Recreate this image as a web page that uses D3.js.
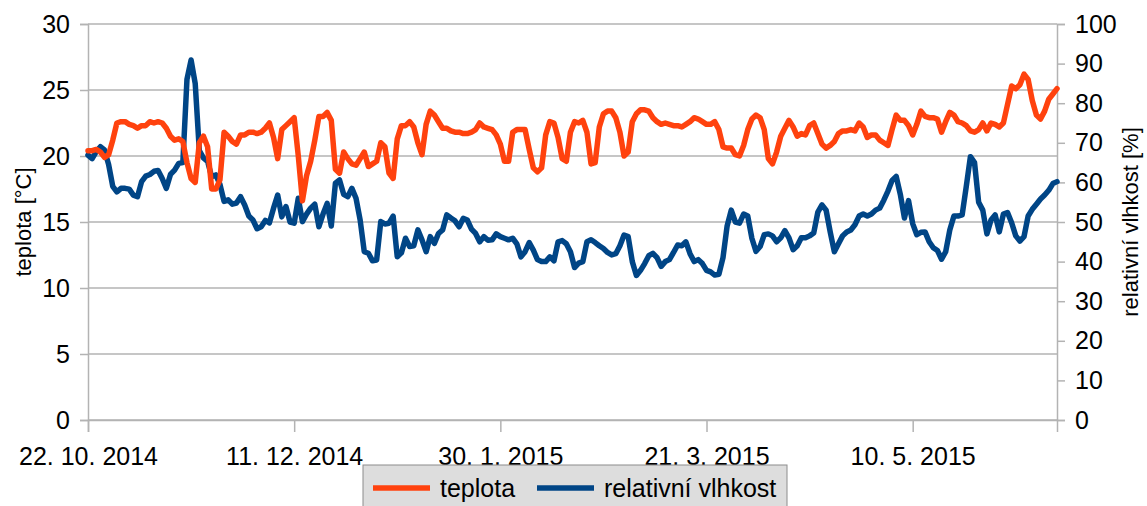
<!DOCTYPE html>
<html>
<head>
<meta charset="utf-8">
<script src="https://cdn.jsdelivr.net/npm/d3@7"></script>
<style>
  html, body { margin: 0; padding: 0; background: #fff; }
  svg text { font-family: "Liberation Sans", Arial, sans-serif; fill: #000; }
</style>
</head>
<body>
<div id="chart"></div>
<script>
// denní měření od 22. 10. 2014
const startDate = new Date(2014, 9, 22);

const teplota = [
  20.4, 20.4, 20.5, 20.3, 19.9, 20.1, 21.2, 22.5, 22.6, 22.6,
  22.4, 22.3, 22.1, 22.3, 22.3, 22.6, 22.5, 22.6, 22.5, 22.1,
  21.5, 21.2, 21.3, 21.1, 19.5, 18.3, 18.0, 21.0, 21.5, 20.7,
  17.5, 17.5, 18.2, 21.8, 21.5, 21.1, 20.9, 21.6, 21.6, 21.8,
  21.8, 21.7, 21.8, 22.1, 22.5, 21.4, 19.8, 22.0, 22.3, 22.6,
  22.9, 20.0, 16.6, 18.5, 19.6, 21.2, 23.0, 23.0, 23.3, 22.7,
  19.0, 18.7, 20.3, 19.8, 19.4, 19.3, 19.8, 20.3, 19.2, 19.4,
  19.6, 21.0, 20.7, 18.7, 18.3, 21.3, 22.3, 22.3, 22.6, 22.2,
  21.0, 20.1, 22.4, 23.4, 23.1, 22.6, 22.1, 22.1, 21.9, 21.8,
  21.8, 21.7, 21.7, 21.8, 22.0, 22.5, 22.2, 22.1, 22.0, 21.6,
  20.9, 19.6, 19.6, 21.8, 22.0, 22.0, 22.0, 20.5, 19.1, 18.8,
  19.1, 21.6, 22.6, 22.5, 21.4, 19.8, 19.6, 21.8, 22.6, 22.5,
  22.7, 21.8, 19.4, 19.5, 22.2, 23.2, 23.4, 23.4, 22.9, 21.8,
  20.0, 20.3, 22.6, 23.2, 23.5, 23.5, 23.4, 22.9, 22.6, 22.4,
  22.5, 22.4, 22.3, 22.3, 22.2, 22.4, 22.6, 22.9, 22.8, 22.6,
  22.4, 22.4, 22.6, 22.0, 20.7, 20.6, 20.6, 20.1, 20.0, 20.8,
  22.0, 22.8, 23.1, 22.9, 22.0, 19.8, 19.4, 20.3, 21.5, 22.1,
  22.7, 22.2, 21.5, 21.7, 21.6, 22.3, 22.5, 21.7, 20.9, 20.6,
  20.8, 21.1, 21.7, 21.9, 21.9, 22.0, 21.9, 22.5, 22.2, 21.4,
  21.6, 21.6, 21.2, 21.0, 20.8, 22.0, 23.1, 22.7, 22.7, 22.3,
  21.6, 22.4, 23.4, 23.0, 22.9, 22.9, 22.8, 21.8, 22.6, 23.3,
  23.1, 22.6, 22.5, 22.3, 21.9, 21.8, 22.0, 22.5, 21.9, 22.5,
  22.4, 22.2, 22.5, 23.9, 25.3, 25.1, 25.4, 26.2, 25.8, 24.2,
  23.1, 22.8, 23.4, 24.3, 24.7, 25.1
];

const vlhkost = [
  66.9, 66.0, 67.8, 69.0, 68.2, 64.5, 59.0, 57.6, 58.5, 58.5,
  58.3, 56.8, 56.4, 60.2, 61.6, 62.0, 62.8, 63.0, 61.0, 58.5,
  62.0, 63.1, 64.8, 65.0, 86.0, 90.9, 85.0, 68.0, 66.2, 65.3,
  61.4, 61.9, 59.5, 55.2, 55.6, 54.5, 54.8, 56.4, 54.3, 51.5,
  50.5, 48.3, 48.8, 50.4, 49.8, 53.5, 56.8, 51.3, 53.9, 50.0,
  49.7, 56.0, 50.1, 52.0, 53.5, 54.5, 48.8, 52.0, 54.7, 49.0,
  59.8, 60.6, 57.0, 56.4, 58.5, 56.0, 50.5, 42.5, 42.1, 40.2,
  40.4, 50.1, 49.5, 49.7, 51.5, 41.2, 42.2, 45.9, 43.8, 44.0,
  48.0, 45.5, 42.5, 46.3, 44.6, 47.1, 48.0, 51.8, 51.0, 50.3,
  48.8, 50.9, 50.5, 48.2, 47.1, 45.0, 46.3, 45.4, 45.5, 47.0,
  46.3, 45.9, 45.5, 45.9, 44.5, 41.2, 42.5, 44.8, 42.9, 40.5,
  40.0, 40.0, 41.2, 40.2, 45.0, 45.3, 44.5, 42.5, 38.5, 39.6,
  40.0, 45.0, 45.5, 44.8, 44.0, 43.3, 42.3, 41.7, 42.0, 44.0,
  46.7, 46.3, 40.0, 36.5, 37.8, 39.5, 41.5, 42.1, 41.0, 38.8,
  40.0, 40.5, 42.3, 44.2, 44.0, 45.0, 42.0, 40.0, 40.5, 39.5,
  37.8, 37.4, 36.6, 36.8, 41.0, 49.0, 53.0, 50.0, 49.7, 52.0,
  51.5, 45.9, 42.6, 43.8, 46.8, 47.0, 46.5, 45.0, 46.0, 47.8,
  46.0, 43.0, 44.0, 46.0, 46.0, 46.5, 47.2, 52.5, 54.3, 53.0,
  47.5, 42.5, 44.5, 46.5, 47.5, 48.0, 49.3, 51.5, 52.0, 51.5,
  52.0, 53.0, 53.5, 55.5, 57.8, 60.5, 61.5, 57.0, 51.0, 55.4,
  49.6, 46.8, 47.4, 47.5, 45.0, 43.5, 42.8, 40.6, 42.5, 48.0,
  51.5, 51.5, 51.8, 59.0, 66.5, 65.0, 55.0, 53.0, 47.0, 50.5,
  51.8, 47.5, 52.0, 52.4, 49.8, 46.5, 45.2, 46.3, 51.5, 53.2,
  54.5, 55.8, 56.8, 58.0, 59.7, 60.2
];

const xTicks = [
  new Date(2014, 9, 22), new Date(2014, 11, 11), new Date(2015, 0, 30),
  new Date(2015, 2, 21), new Date(2015, 4, 10)
];
const leftTicks = [0, 5, 10, 15, 20, 25, 30];
const rightTicks = [0, 10, 20, 30, 40, 50, 60, 70, 80, 90, 100];

const serie = [
  { name: "teplota", color: "#ff420e" },
  { name: "relativní vlhkost", color: "#004586" }
];

// --- rozměry ---
const width = 1147, height = 506;
const margin = { top: 24, right: 90, bottom: 86, left: 88 };
const fs = 25;

const svg = d3.select("#chart").append("svg")
  .attr("width", width)
  .attr("height", height);

const dates = teplota.map((_, i) => d3.timeDay.offset(startDate, i));

const x = d3.scaleTime()
  .domain([dates[0], dates[dates.length - 1]])
  .range([margin.left, width - margin.right]);
const yL = d3.scaleLinear().domain([0, 30]).range([height - margin.bottom, margin.top]);
const yR = d3.scaleLinear().domain([0, 100]).range([height - margin.bottom, margin.top]);

const x0 = margin.left, x1 = width - margin.right;
const yb = height - margin.bottom;

// mřížka
svg.append("g").selectAll("line")
  .data(leftTicks)
  .join("line")
  .attr("x1", x0).attr("x2", x1)
  .attr("y1", d => yL(d)).attr("y2", d => yL(d))
  .attr("stroke", "#b3b3b3").attr("stroke-width", 1.5);

// levá osa
const axL = svg.append("g").attr("transform", `translate(${x0},0)`)
  .call(d3.axisLeft(yL).tickValues(leftTicks).tickSize(8).tickPadding(10));
// pravá osa
const axR = svg.append("g").attr("transform", `translate(${x1},0)`)
  .call(d3.axisRight(yR).tickValues(rightTicks).tickSize(8).tickPadding(10));
// osa x
const axX = svg.append("g").attr("transform", `translate(0,${yb})`)
  .call(d3.axisBottom(x).tickValues(xTicks).tickSize(12).tickPadding(10)
    .tickFormat(d3.timeFormat("%-d. %-m. %Y")));

[axL, axR, axX].forEach(g => {
  g.select(".domain").attr("stroke", "#b3b3b3").attr("stroke-width", 1.5);
  g.selectAll(".tick line").attr("stroke", "#b3b3b3").attr("stroke-width", 1.5);
  g.selectAll(".tick text").attr("font-size", fs).attr("font-family", "Liberation Sans").attr("fill", "#000");
});
axX.selectAll(".tick text").attr("dy", "0.9em");

// popisky os
svg.append("text")
  .attr("transform", `translate(31,${(margin.top + yb) / 2}) rotate(-90)`)
  .attr("text-anchor", "middle")
  .attr("font-size", fs * 0.88)
  .text("teplota [°C]");
svg.append("text")
  .attr("transform", `translate(1138,${(margin.top + yb) / 2}) rotate(-90)`)
  .attr("text-anchor", "middle")
  .attr("font-size", fs * 0.88)
  .text("relativní vlhkost [%]");

// čáry
const lineT = d3.line().x((d, i) => x(dates[i])).y(d => yL(d));
const lineH = d3.line().x((d, i) => x(dates[i])).y(d => yR(d));

svg.append("path").datum(vlhkost)
  .attr("d", lineH).attr("fill", "none")
  .attr("stroke", serie[1].color).attr("stroke-width", 5.5)
  .attr("stroke-linejoin", "round").attr("stroke-linecap", "round");
svg.append("path").datum(teplota)
  .attr("d", lineT).attr("fill", "none")
  .attr("stroke", serie[0].color).attr("stroke-width", 5.5)
  .attr("stroke-linejoin", "round").attr("stroke-linecap", "round");

// legenda
const lg = svg.append("g").attr("transform", "translate(363,465)");
lg.append("rect").attr("width", 424).attr("height", 60)
  .attr("fill", "#dddddd").attr("stroke", "#8c8c8c").attr("stroke-width", 1);
const itemX = [10, 174];
serie.forEach((s, i) => {
  lg.append("line")
    .attr("x1", itemX[i]).attr("x2", itemX[i] + 57)
    .attr("y1", 23).attr("y2", 23)
    .attr("stroke", s.color).attr("stroke-width", 5.5);
  lg.append("text")
    .attr("x", itemX[i] + 67).attr("y", 32)
    .attr("font-size", fs)
    .text(s.name);
});
</script>
</body>
</html>
